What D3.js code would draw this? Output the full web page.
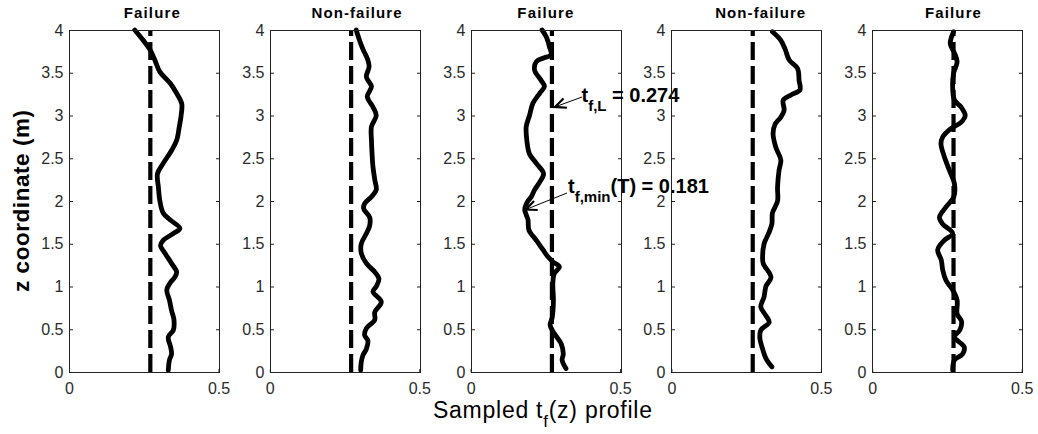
<!DOCTYPE html>
<html>
<head>
<meta charset="utf-8">
<script src="https://cdn.jsdelivr.net/npm/d3@7"></script>
<style>
  html, body { margin: 0; padding: 0; background: #fff; }
  svg { display: block; font-family: "Liberation Sans", Arial, Helvetica, sans-serif; }
</style>
</head>
<body>
<svg id="chart" width="1038" height="434"></svg>
<script>
// ---------------- DATA ----------------
const panelTitles = ["Failure", "Non-failure", "Failure", "Non-failure", "Failure"];
const zTicks = [0, 0.5, 1, 1.5, 2, 2.5, 3, 3.5, 4];
const tTicks = [0, 0.5];
const zDomain = [0, 4];
const tDomain = [0, 0.5];
const tfL = 0.272;          // limit value (dashed line)
const tfLabelValue = "0.274";
const tfMinValue = "0.181";
const tfMinPoint = [1.9, 0.181];   // [z, t] in panel 3
const tfLPointZ = 3.1;

// profiles as [z, t]
const profile1 = [
  [4.00,0.220],[3.88,0.248],[3.77,0.271],[3.65,0.287],[3.51,0.304],[3.38,0.338],[3.26,0.360],
  [3.14,0.377],[3.00,0.375],[2.87,0.369],[2.71,0.360],[2.59,0.343],[2.44,0.315],[2.32,0.296],
  [2.16,0.299],[2.00,0.304],[1.86,0.315],[1.78,0.338],[1.68,0.371],[1.62,0.349],[1.54,0.315],
  [1.48,0.306],[1.39,0.321],[1.27,0.343],[1.17,0.360],[1.11,0.354],[1.04,0.338],[0.96,0.327],
  [0.84,0.336],[0.72,0.343],[0.61,0.351],[0.49,0.349],[0.41,0.332],[0.29,0.340],[0.21,0.343],
  [0.14,0.336],[0.02,0.332]
];
const profile2 = [
  [4.00,0.289],[3.88,0.300],[3.77,0.312],[3.65,0.328],[3.57,0.332],[3.45,0.323],[3.34,0.340],
  [3.22,0.326],[3.10,0.345],[3.00,0.356],[2.87,0.340],[2.71,0.340],[2.55,0.342],[2.40,0.345],
  [2.25,0.351],[2.13,0.356],[2.05,0.340],[1.97,0.317],[1.91,0.314],[1.81,0.334],[1.71,0.334],
  [1.62,0.323],[1.50,0.306],[1.39,0.306],[1.27,0.323],[1.17,0.351],[1.09,0.365],[1.00,0.356],
  [0.94,0.345],[0.82,0.373],[0.70,0.351],[0.61,0.351],[0.51,0.323],[0.43,0.317],[0.37,0.328],
  [0.27,0.323],[0.20,0.312],[0.12,0.306],[0.02,0.304]
];
const profile3 = [
  [4.00,0.239],[3.92,0.253],[3.80,0.264],[3.71,0.269],[3.67,0.242],[3.63,0.220],[3.53,0.214],
  [3.41,0.236],[3.34,0.247],[3.26,0.231],[3.14,0.208],[3.00,0.197],[2.87,0.186],[2.71,0.188],
  [2.55,0.197],[2.44,0.220],[2.32,0.244],[2.22,0.231],[2.13,0.214],[2.05,0.203],[1.99,0.190],
  [1.90,0.181],[1.84,0.186],[1.78,0.192],[1.66,0.195],[1.54,0.220],[1.43,0.242],[1.35,0.258],
  [1.29,0.275],[1.23,0.297],[1.15,0.280],[1.04,0.275],[0.84,0.277],[0.64,0.273],[0.55,0.266],
  [0.45,0.280],[0.33,0.303],[0.21,0.310],[0.14,0.306],[0.04,0.319]
];
const profile4 = [
  [3.98,0.338],[3.88,0.366],[3.77,0.381],[3.65,0.394],[3.55,0.422],[3.41,0.427],[3.30,0.430],
  [3.24,0.400],[3.18,0.374],[3.06,0.377],[2.98,0.366],[2.90,0.347],[2.79,0.340],[2.63,0.349],
  [2.48,0.366],[2.36,0.360],[2.16,0.355],[2.00,0.355],[1.86,0.338],[1.73,0.336],[1.62,0.325],
  [1.50,0.310],[1.35,0.305],[1.27,0.307],[1.11,0.333],[1.00,0.316],[0.88,0.310],[0.76,0.299],
  [0.66,0.316],[0.58,0.327],[0.49,0.299],[0.39,0.296],[0.27,0.305],[0.16,0.316],[0.06,0.336]
];
const profile5 = [
  [3.98,0.272],[3.84,0.261],[3.73,0.275],[3.63,0.284],[3.49,0.272],[3.34,0.269],[3.18,0.275],
  [3.10,0.297],[3.00,0.311],[2.92,0.297],[2.85,0.264],[2.75,0.236],[2.67,0.230],[2.52,0.241],
  [2.36,0.258],[2.20,0.275],[2.05,0.273],[1.93,0.247],[1.81,0.225],[1.73,0.236],[1.62,0.269],
  [1.54,0.241],[1.43,0.219],[1.31,0.231],[1.19,0.236],[1.07,0.247],[0.96,0.269],[0.84,0.284],
  [0.68,0.284],[0.59,0.299],[0.49,0.293],[0.41,0.275],[0.29,0.308],[0.21,0.302],[0.14,0.275],
  [0.02,0.269]
];
const profiles = [profile1, profile2, profile3, profile4, profile5];

// ---------------- LAYOUT ----------------
const layout = {
  left0: 69, step: 200.8, width: 149.5, top: 30, bottom: 372,
  titleDx: [8, 12, 0, 14, 6]
};
const FONT = '"Liberation Sans", Arial, Helvetica, sans-serif';

const svg = d3.select("#chart");
const y = d3.scaleLinear().domain(zDomain).range([layout.bottom, layout.top]);

profiles.forEach((prof, i) => {
  const x0 = layout.left0 + i * layout.step;
  const x = d3.scaleLinear().domain(tDomain).range([x0, x0 + layout.width]);
  const g = svg.append("g");

  // curve
  const line = d3.line().x(d => x(d[1])).y(d => y(d[0])).curve(d3.curveCatmullRom.alpha(0.5));
  g.append("path").datum(prof).attr("d", line)
    .attr("fill", "none").attr("stroke", "#000").attr("stroke-width", 4.8)
    .attr("stroke-linejoin", "round").attr("stroke-linecap", "round");

  // dashed limit line (drawn bottom -> top)
  g.append("line")
    .attr("x1", x(tfL)).attr("x2", x(tfL))
    .attr("y1", y(zDomain[0])).attr("y2", y(zDomain[1]))
    .attr("stroke", "#000").attr("stroke-width", 4.2)
    .attr("stroke-dasharray", "18,6");

  // box
  g.append("rect")
    .attr("x", Math.round(x0) + 0.5).attr("y", layout.top + 0.5)
    .attr("width", Math.round(layout.width)).attr("height", layout.bottom - layout.top)
    .attr("fill", "none").attr("stroke", "#222").attr("stroke-width", 1);

  // left axis (labels + inward ticks)
  const yl = g.append("g").attr("transform", `translate(${Math.round(x0) + 0.5},0)`)
    .call(d3.axisLeft(y).tickValues(zTicks).tickSize(-3.5).tickPadding(6).tickFormat(d3.format("")));
  // right axis (inward ticks only)
  const yr = g.append("g").attr("transform", `translate(${Math.round(x0) + Math.round(layout.width) + 0.5},0)`)
    .call(d3.axisRight(y).tickValues(zTicks).tickSize(-3.5).tickFormat(""));
  // bottom axis
  const xb = g.append("g").attr("transform", `translate(0,${layout.bottom + 0.5})`)
    .call(d3.axisBottom(x).tickValues(tTicks).tickSize(-3.5).tickPadding(10).tickFormat(d3.format("")));

  [yl, yr, xb].forEach(a => {
    a.select(".domain").remove();
    a.selectAll(".tick line").attr("stroke", "#222");
    a.selectAll("text").attr("font-family", FONT).attr("font-size", 16).attr("fill", "#2a2a2a");
  });

  // title
  const title = panelTitles[i];
  g.append("text")
    .attr("x", x0 + layout.width / 2 + layout.titleDx[i]).attr("y", 18)
    .attr("text-anchor", "middle").attr("font-family", FONT)
    .attr("font-weight", "bold").attr("font-size", 15)
    .attr("textLength", title === "Failure" ? 56 : 90).attr("lengthAdjust", "spacing")
    .text(title);

  // annotations in panel 3
  if (i === 2) {
    const tip1 = [x(tfL) + 3, y(tfLPointZ)];
    const tail1 = [582, 97];
    const tip2 = [x(tfMinPoint[1]) + 1, y(tfMinPoint[0])];
    const tail2 = [567, 193];
    [[tail1, tip1], [tail2, tip2]].forEach(([a, b]) => {
      g.append("line").attr("x1", a[0]).attr("y1", a[1]).attr("x2", b[0]).attr("y2", b[1])
        .attr("stroke", "#000").attr("stroke-width", 1);
      const ang = Math.atan2(a[1] - b[1], a[0] - b[0]);
      const L = 12, spread = 0.42;
      const p1 = [b[0] + L * Math.cos(ang + spread), b[1] + L * Math.sin(ang + spread)];
      const p2 = [b[0] + L * Math.cos(ang - spread), b[1] + L * Math.sin(ang - spread)];
      g.append("path").attr("d", `M${p1[0]},${p1[1]}L${b[0]},${b[1]}L${p2[0]},${p2[1]}`)
        .attr("fill", "none").attr("stroke", "#000").attr("stroke-width", 2.2)
        .attr("stroke-linejoin", "miter");
    });

    const t1 = g.append("text").attr("x", 581.5).attr("y", 102)
      .attr("font-family", FONT).attr("font-weight", "bold").attr("font-size", 20);
    t1.append("tspan").text("t");
    t1.append("tspan").attr("dy", 9).attr("font-size", 15).text("f,L");
    t1.append("tspan").attr("dy", -9).text(" = " + tfLabelValue);

    const t2 = g.append("text").attr("x", 568).attr("y", 193)
      .attr("font-family", FONT).attr("font-weight", "bold").attr("font-size", 20);
    t2.append("tspan").text("t");
    t2.append("tspan").attr("dy", 9).attr("font-size", 15).text("f,min");
    t2.append("tspan").attr("dy", -9).text("(T) = " + tfMinValue);
  }
});

// y label
svg.append("text")
  .attr("transform", "translate(28.5,201) rotate(-90)")
  .attr("text-anchor", "middle").attr("font-family", FONT)
  .attr("font-weight", "bold").attr("font-size", 22.5)
  .attr("textLength", 182).attr("lengthAdjust", "spacing")
  .text("z coordinate (m)");

// x label
const xl = svg.append("text")
  .attr("x", 433).attr("y", 418)
  .attr("font-family", FONT).attr("font-size", 23)
  .attr("textLength", 219).attr("lengthAdjust", "spacing");
xl.append("tspan").text("Sampled t");
xl.append("tspan").attr("dy", 9).attr("font-size", 17).text("f");
xl.append("tspan").attr("dy", -9).text("(z) profile");
</script>
</body>
</html>
